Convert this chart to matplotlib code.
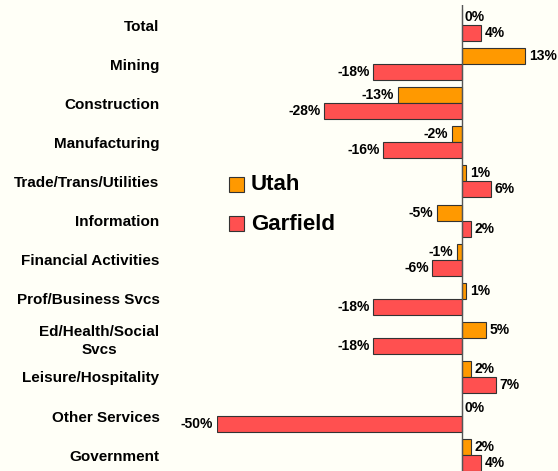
import matplotlib

matplotlib.use("Agg")
import matplotlib.pyplot as plt
import numpy as np

# sectores y variacion porcentual
CATEGORIES = ["Total", "Mining", "Construction", "Manufacturing",
              "Trade/Trans/Utilities", "Information", "Financial Activities",
              "Prof/Business Svcs", "Ed/Health/Social\nSvcs", "Leisure/Hospitality",
              "Other Services", "Government"]
UTAH = [0, 13, -13, -2, 1, -5, -1, 1, 5, 2, 0, 2]
GARFIELD = [4, -18, -28, -16, 6, 2, -6, -18, -18, 7, -50, 4]

C_UTAH = "#ff9900"
C_GARF = "#ff5050"
EDGE = "#333333"
BG = "#fffff7"
FONT = ["Liberation Sans", "DejaVu Sans"]

W, H = 558, 471
fig = plt.figure(figsize=(W / 100, H / 100), dpi=100, facecolor=BG)
# eixo: x=0 em 461.5px, -50 em 216.5px ; categoria 0 em y=25px, passo 39.1px
x0, x50 = 461.5, 216.5
ppu = (x0 - x50) / 50
ax = fig.add_axes([x50 / W, 0, 1 - x50 / W, 1 - 5 / H])
ax.set_facecolor(BG)
ax.set_xlim(-50, (W - x0) / ppu)
step = 39.1
ax.set_ylim((H - 25) / step, -20 / step)

y = np.arange(len(CATEGORIES))
bh = 16 / step
ax.barh(y - bh / 2, UTAH, height=bh, color=C_UTAH, edgecolor=EDGE, lw=0.8, zorder=2)
ax.barh(y + bh / 2, GARFIELD, height=bh, color=C_GARF, edgecolor=EDGE, lw=0.8, zorder=2)
ax.axvline(0, color="#555555", lw=1.0, zorder=3)

pad = 0.7
for yy, u, g in zip(y, UTAH, GARFIELD):
    for val, yc in ((u, yy - bh / 2), (g, yy + bh / 2)):
        if val >= 0:
            ax.text(val + pad, yc, f"{val}%", ha="left", va="center",
                    fontsize=10, weight="bold", family=FONT)
        else:
            ax.text(val - pad, yc, f"{val}%", ha="right", va="center",
                    fontsize=10, weight="bold", family=FONT)

ax.set_yticks(y)
ax.set_yticklabels(CATEGORIES, fontsize=11, weight="bold", family=FONT,
                   linespacing=1.35)
for lab in ax.get_yticklabels():
    lab.set_multialignment("center")
ax.tick_params(axis="y", length=0, pad=41)
ax.set_xticks([])
for sp in ax.spines.values():
    sp.set_visible(False)

# legenda manual
for i, (name, c) in enumerate((("Utah", C_UTAH), ("Garfield", C_GARF))):
    ly = 185 + 39 * i
    fig.patches.append(plt.Rectangle((229 / W, 1 - (ly + 7) / H), 15 / W, 15 / H,
                                     transform=fig.transFigure, facecolor=c,
                                     edgecolor=EDGE, lw=0.8))
    fig.text(251 / W, 1 - ly / H, name, ha="left", va="center", fontsize=16,
             weight="bold", family=FONT)

fig.savefig("out.png", dpi=100, facecolor=BG)
